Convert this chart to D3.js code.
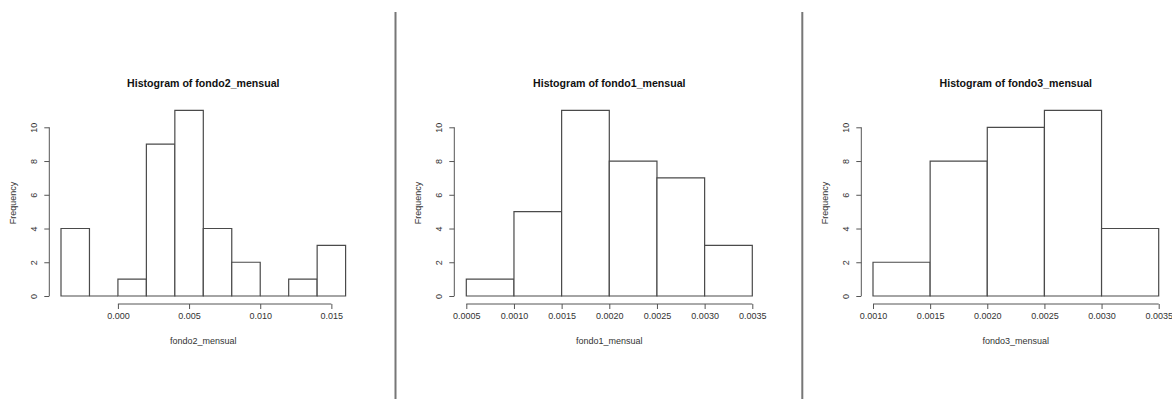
<!DOCTYPE html>
<html>
<head>
<meta charset="utf-8">
<script src="https://cdn.jsdelivr.net/npm/d3@7"></script>
<style>
  body { margin: 0; background: #fff; }
  svg text { font-family: "Liberation Sans", Arial, sans-serif; }
</style>
</head>
<body>
<div id="chart"></div>
<script>
// Histogram data: bin edges and counts per panel

var fondo2_breaks = [-0.004, -0.002, 0.000, 0.002, 0.004, 0.006, 0.008, 0.010, 0.012, 0.014, 0.016];
var fondo2_counts = [4, 0, 1, 9, 11, 4, 2, 0, 1, 3];
var fondo2_ticks  = [0.000, 0.005, 0.010, 0.015];

var fondo1_breaks = [0.0005, 0.0010, 0.0015, 0.0020, 0.0025, 0.0030, 0.0035];
var fondo1_counts = [1, 5, 11, 8, 7, 3];
var fondo1_ticks  = [0.0005, 0.0010, 0.0015, 0.0020, 0.0025, 0.0030, 0.0035];

var fondo3_breaks = [0.0010, 0.0015, 0.0020, 0.0025, 0.0030, 0.0035];
var fondo3_counts = [2, 8, 10, 11, 4];
var fondo3_ticks  = [0.0010, 0.0015, 0.0020, 0.0025, 0.0030, 0.0035];

var freq_ticks = [0, 2, 4, 6, 8, 10];

var svg = d3.select("#chart").append("svg")
	.attr("width", 1172)
	.attr("height", 399);

// y scale shared by all three panels
var y = d3.scaleLinear().domain([0, 10]).range([296, 127.3]);

// hist_panel - draw one R style histogram
function hist_panel(name, breaks, counts, ticks, fmt, left, right, axisX) {
	var x = d3.scaleLinear()
		.domain([breaks[0], breaks[breaks.length - 1]])
		.range([left, right]);

	var bins = counts.map(function(c, i) { return {x0: breaks[i], x1: breaks[i + 1], n: c}; });
	var g = svg.append("g");

	// bars as closed paths so empty bins still show as a flat line
	g.selectAll(".bar")
		.data(bins)
		.enter().append("path")
		  .attr("d", function(d) {
			  return "M" + x(d.x0) + "," + y(0) + "V" + y(d.n) +
				  "H" + x(d.x1) + "V" + y(0) + "Z";
		  })
		  .attr("fill", "#fff")
		  .attr("stroke", "#4a4a4a")
		  .attr("stroke-width", 1.2);

	// x axis, below the bars like R
	var xa = g.append("g")
		.attr("transform", "translate(0,304)")
		.call(d3.axisBottom(x).tickValues(ticks).tickFormat(d3.format(fmt)).tickSize(5).tickPadding(4));
	xa.select(".domain").attr("stroke", "#555").attr("d",
		"M" + x(ticks[0]) + ",0H" + x(ticks[ticks.length - 1]));
	xa.selectAll(".tick line").attr("stroke", "#555");
	xa.selectAll(".tick text").attr("fill", "#333").style("font-size", "9px");

	// y axis, rotated labels
	var ya = g.append("g")
		.attr("transform", "translate(" + axisX + ",0)")
		.call(d3.axisLeft(y).tickValues(freq_ticks).tickSize(5).tickPadding(0));
	ya.select(".domain").attr("stroke", "#555").attr("d", "M0," + y(0) + "V" + y(10));
	ya.selectAll(".tick line").attr("stroke", "#555");
	ya.selectAll(".tick text")
		.attr("fill", "#333")
		.style("font-size", "9px")
		.attr("text-anchor", "middle")
		.attr("x", 0).attr("dy", 0)
		.attr("transform", "translate(-15,0) rotate(-90) translate(0,3)");

	var mid = (left + right) / 2;
	g.append("text")
		.attr("x", mid).attr("y", 86.5)
		.attr("text-anchor", "middle")
		.style("font-size", "10.6px").style("font-weight", "bold")
		.attr("fill", "#111")
		.text("Histogram of " + name);

	g.append("text")
		.attr("x", mid).attr("y", 344)
		.attr("text-anchor", "middle")
		.style("font-size", "9px")
		.attr("fill", "#333")
		.text(name);

	g.append("text")
		.attr("transform", "translate(" + (axisX - 33) + ",203) rotate(-90)")
		.attr("text-anchor", "middle")
		.style("font-size", "9px")
		.attr("fill", "#333")
		.text("Frequency");
}

hist_panel("fondo2_mensual", fondo2_breaks, fondo2_counts, fondo2_ticks, ".3f", 61, 345.6, 49.3);
hist_panel("fondo1_mensual", fondo1_breaks, fondo1_counts, fondo1_ticks, ".4f", 466.3, 752.3, 454.3);
hist_panel("fondo3_mensual", fondo3_breaks, fondo3_counts, fondo3_ticks, ".4f", 873, 1158.7, 861.3);

// separators between the pasted plots
svg.selectAll(".sep")
	.data([395.5, 802.3])
	.enter().append("line")
	  .attr("x1", function(d) { return d; }).attr("x2", function(d) { return d; })
	  .attr("y1", 12).attr("y2", 399)
	  .attr("stroke", "#777").attr("stroke-width", 2);
</script>
</body>
</html>
